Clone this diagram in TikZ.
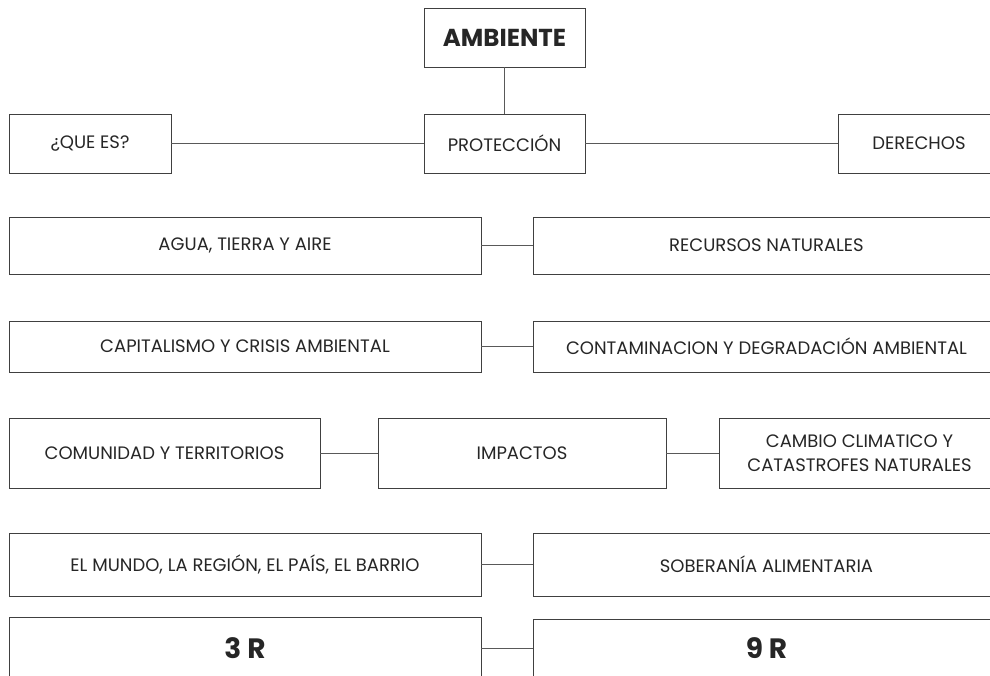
\documentclass[tikz,border=0pt]{standalone}
\usepackage{fontspec}
\setmainfont{Poppins}
\begin{document}
\begin{tikzpicture}[x=1pt,y=-1pt,
  box/.style={draw=black!75, line width=0.9pt, fill=white, inner sep=2pt,
    text=black!85, font=\fontsize{18}{24}\selectfont, align=center},
  link/.style={draw=black!65, line width=0.9pt},
  big/.style={font=\fontsize{24.5}{28}\selectfont\bfseries},
  huge/.style={font=\fontsize{28}{32}\selectfont\bfseries}]
\useasboundingbox (0,0) rectangle (990,675);
\clip (0,0) rectangle (990,675);
\fill[white] (0,0) rectangle (990,675);
% top
\node[box,big,minimum width=161pt,minimum height=59pt] (amb) at (504.5,37.5) {AMBIENTE};
\node[box,minimum width=161pt,minimum height=59pt] (prot) at (504.5,143.5) {PROTECCIÓN};
\node[box,minimum width=162pt,minimum height=59pt] (que) at (90,143.5) {¿QUE ES?};
\node[box,minimum width=162pt,minimum height=59pt] (der) at (919,143.5) {DERECHOS};
% row 2
\node[box,minimum width=472pt,minimum height=57pt] (agua) at (245,245.5) {AGUA, TIERRA Y AIRE};
\node[box,minimum width=467pt,minimum height=57pt] (rec) at (766.5,245.5) {RECURSOS NATURALES};
% row 3
\node[box,minimum width=472pt,minimum height=51pt] (cap) at (245,346.5) {CAPITALISMO Y CRISIS AMBIENTAL};
\node[box,minimum width=467pt,minimum height=51pt] (cont) at (766.5,346.5) {CONTAMINACION Y DEGRADACIÓN AMBIENTAL};
% row 4
\node[box,minimum width=311pt,minimum height=70pt] (com) at (164.5,453) {COMUNIDAD Y TERRITORIOS};
\node[box,minimum width=288pt,minimum height=70pt] (imp) at (522,453) {IMPACTOS};
\node[box,minimum width=281pt,minimum height=70pt] (camb) at (859.5,453) {CAMBIO CLIMATICO Y\\CATASTROFES NATURALES};
% row 5
\node[box,minimum width=472pt,minimum height=63pt] (mundo) at (245,564.5) {EL MUNDO, LA REGIÓN, EL PAÍS, EL BARRIO};
\node[box,minimum width=467pt,minimum height=63pt] (sob) at (766.5,564.5) {SOBERANÍA ALIMENTARIA};
% row 6
\node[box,huge,minimum width=472pt,minimum height=62pt] (tres) at (245,648) {3 R};
\node[box,huge,minimum width=467pt,minimum height=58pt] (nueve) at (766.5,648) {9 R};
% connectors
\draw[link] (amb.south) -- (prot.north);
\draw[link] (que.east) -- (prot.west);
\draw[link] (prot.east) -- (der.west);
\draw[link] (agua.east) -- (rec.west);
\draw[link] (cap.east) -- (cont.west);
\draw[link] (com.east) -- (imp.west);
\draw[link] (imp.east) -- (camb.west);
\draw[link] (mundo.east) -- (sob.west);
\draw[link] (tres.east) -- (nueve.west);
\end{tikzpicture}
\end{document}
